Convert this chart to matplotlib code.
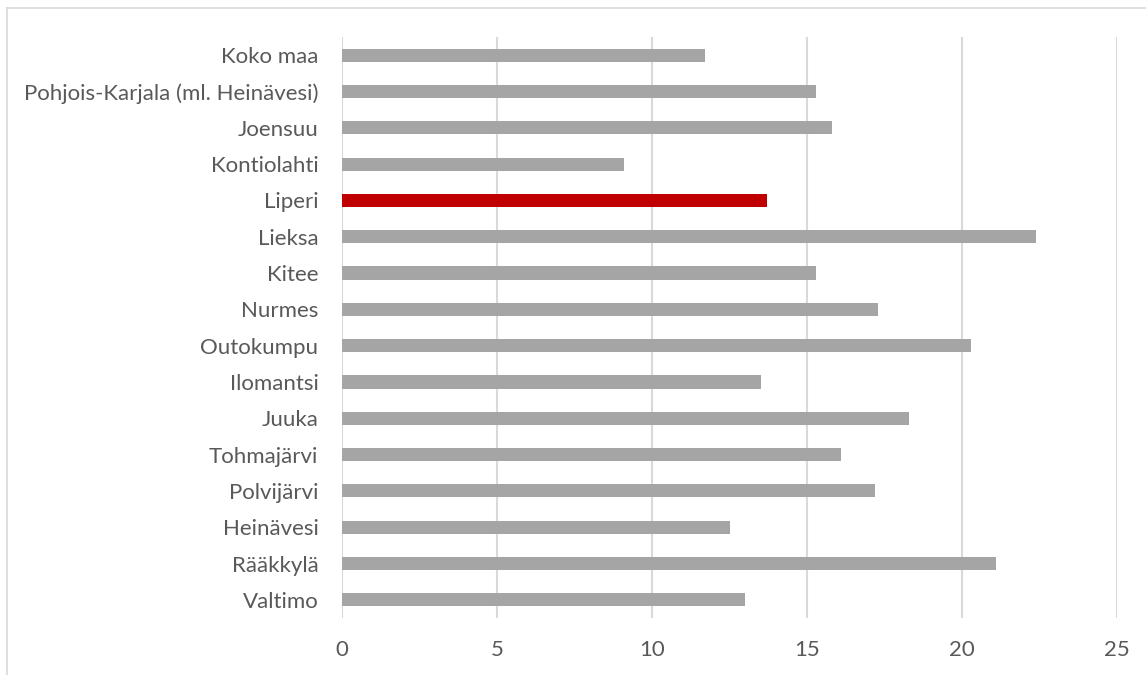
import matplotlib
matplotlib.use("Agg")
import matplotlib.pyplot as plt
from matplotlib.lines import Line2D

categories = ["Koko maa", "Pohjois-Karjala (ml. Heinävesi)", "Joensuu", "Kontiolahti",
              "Liperi", "Lieksa", "Kitee", "Nurmes", "Outokumpu", "Ilomantsi", "Juuka",
              "Tohmajärvi", "Polvijärvi", "Heinävesi", "Rääkkylä", "Valtimo"]
values = [11.7, 15.3, 15.8, 9.1, 13.7, 22.4, 15.3, 17.3, 20.3, 13.5, 18.3,
          16.1, 17.2, 12.5, 21.1, 13.0]
highlight = "Liperi"
xticks = [0, 5, 10, 15, 20, 25]

plt.rcParams['font.family'] = ['Lato', 'DejaVu Sans']

W, H = 1146, 675
fig = plt.figure(figsize=(W / 100, H / 100), dpi=100)
ax = fig.add_axes([342 / W, 1 - 618 / H, (1117 - 342) / W, (618 - 37) / H])

colors = ["#c00000" if c == highlight else "#a5a5a5" for c in categories]
ypos = list(range(len(categories)))
ax.barh(ypos, values, height=0.36, color=colors, zorder=3)

ax.set_xlim(0, 25)
ax.set_ylim(len(categories) - 0.5, -0.5)
ax.set_yticks(ypos)
ax.set_yticklabels(categories)
ax.set_xticks(xticks)
ax.set_xticklabels([str(t) for t in xticks])
ax.grid(axis="x", color="#d9d9d9", linewidth=1.5, zorder=0)
for s in ax.spines.values():
    s.set_visible(False)
ax.tick_params(axis="both", length=0, labelsize=16, colors="#595959")
ax.tick_params(axis="y", pad=17)
ax.tick_params(axis="x", pad=16)

# outer border (top and left visible)
fig.add_artist(Line2D([6.5 / W, 6.5 / W], [0, 1 - 7.5 / H], transform=fig.transFigure,
                      color="#d9d9d9", linewidth=1.2))
fig.add_artist(Line2D([6.5 / W, 1], [1 - 7.5 / H, 1 - 7.5 / H], transform=fig.transFigure,
                      color="#d9d9d9", linewidth=1.2))

fig.savefig("out.png", dpi=100)
